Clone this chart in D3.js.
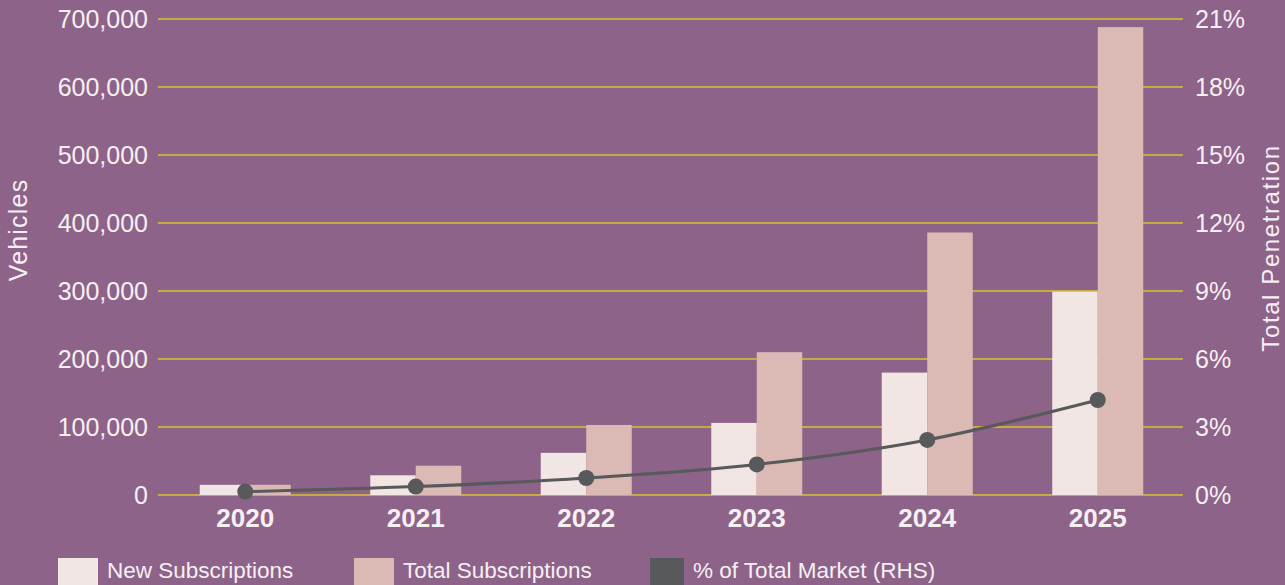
<!DOCTYPE html>
<html><head><meta charset="utf-8">
<script src="https://cdn.jsdelivr.net/npm/d3@7"></script>
<style>
html,body{margin:0;padding:0;background:#8e6389;}
svg{display:block;font-family:"Liberation Sans",Arial,sans-serif;}
</style></head>
<body>
<svg id="chart" width="1285" height="585"></svg>
<script>
const years = ["2020","2021","2022","2023","2024","2025"];
const newSubs = [15000, 29000, 62000, 106000, 180000, 299000];
const totalSubs = [15000, 43000, 103000, 210000, 386000, 688000];
const pctMarket = [0.15, 0.37, 0.75, 1.35, 2.43, 4.19];
const leftTicks = [0,100000,200000,300000,400000,500000,600000,700000];
const rightTicks = [0,3,6,9,12,15,18,21];

const svg = d3.select("#chart");
const W = 1285, H = 585;
svg.append("rect").attr("width",W).attr("height",H).attr("fill","#8e6389");

const x0 = 160, x1 = 1183, yTop = 19, yBot = 495;
const x = d3.scaleBand().domain(years).range([x0,x1]);
const yL = d3.scaleLinear().domain([0,700000]).range([yBot,yTop]);
const yR = d3.scaleLinear().domain([0,21]).range([yBot,yTop]);
const txt = "#f6f0f2";

// gridlines
svg.append("g").selectAll("line").data(leftTicks).join("line")
  .attr("x1",158).attr("x2",1183)
  .attr("y1",d=>yL(d)).attr("y2",d=>yL(d))
  .attr("stroke","#d8c22c").attr("stroke-width",1.5);

// left axis labels
const fmt = d3.format(",");
svg.append("g").selectAll("text").data(leftTicks).join("text")
  .attr("x",148).attr("y",d=>yL(d)).attr("dy","0.35em")
  .attr("text-anchor","end").attr("font-size",25).attr("fill",txt)
  .text(d=>fmt(d));

// right axis labels
svg.append("g").selectAll("text").data(rightTicks).join("text")
  .attr("x",1195).attr("y",d=>yR(d)).attr("dy","0.35em")
  .attr("text-anchor","start").attr("font-size",25).attr("fill",txt)
  .text(d=>d+"%");

// bars
const bw = 45.5;
const g = svg.append("g");
g.selectAll("rect.n").data(years).join("rect").attr("class","n")
  .attr("x",d=>x(d)+x.bandwidth()/2-bw).attr("width",bw)
  .attr("y",(d,i)=>yL(newSubs[i])).attr("height",(d,i)=>yBot-yL(newSubs[i]))
  .attr("fill","#f2e6e4");
g.selectAll("rect.t").data(years).join("rect").attr("class","t")
  .attr("x",d=>x(d)+x.bandwidth()/2).attr("width",bw)
  .attr("y",(d,i)=>yL(totalSubs[i])).attr("height",(d,i)=>yBot-yL(totalSubs[i]))
  .attr("fill","#dbb9b5");

// line
const pts = years.map((d,i)=>[x(d)+x.bandwidth()/2, yR(pctMarket[i])]);
svg.append("path").attr("d",d3.line().curve(d3.curveMonotoneX)(pts))
  .attr("fill","none").attr("stroke","#58595b").attr("stroke-width",3);
svg.append("g").selectAll("circle").data(pts).join("circle")
  .attr("cx",d=>d[0]).attr("cy",d=>d[1]).attr("r",8).attr("fill","#58595b");

// x labels
svg.append("g").selectAll("text").data(years).join("text")
  .attr("x",d=>x(d)+x.bandwidth()/2).attr("y",518).attr("dy","0.35em")
  .attr("text-anchor","middle").attr("font-size",26).attr("font-weight","bold")
  .attr("fill",txt).text(d=>d);

// axis titles
svg.append("text").attr("transform","translate(27,230) rotate(-90)")
  .attr("text-anchor","middle").attr("font-size",25).attr("letter-spacing",1.2)
  .attr("fill",txt).text("Vehicles");
svg.append("text").attr("transform","translate(1279,248) rotate(-90)")
  .attr("text-anchor","middle").attr("font-size",24).attr("letter-spacing",1.6)
  .attr("fill",txt).text("Total Penetration");

// legend
const legend = [
  {label:"New Subscriptions", color:"#f2e6e4", x:58, w:40},
  {label:"Total Subscriptions", color:"#dbb9b5", x:354, w:40},
  {label:"% of Total Market (RHS)", color:"#58595b", x:650, w:34}
];
const lg = svg.append("g").selectAll("g").data(legend).join("g");
lg.append("rect").attr("x",d=>d.x).attr("y",558).attr("width",d=>d.w).attr("height",27).attr("fill",d=>d.color);
lg.append("text").attr("x",d=>d.x+d.w+9).attr("y",570).attr("dy","0.35em")
  .attr("font-size",22.5).attr("fill",txt).text(d=>d.label);
</script>
</body></html>
